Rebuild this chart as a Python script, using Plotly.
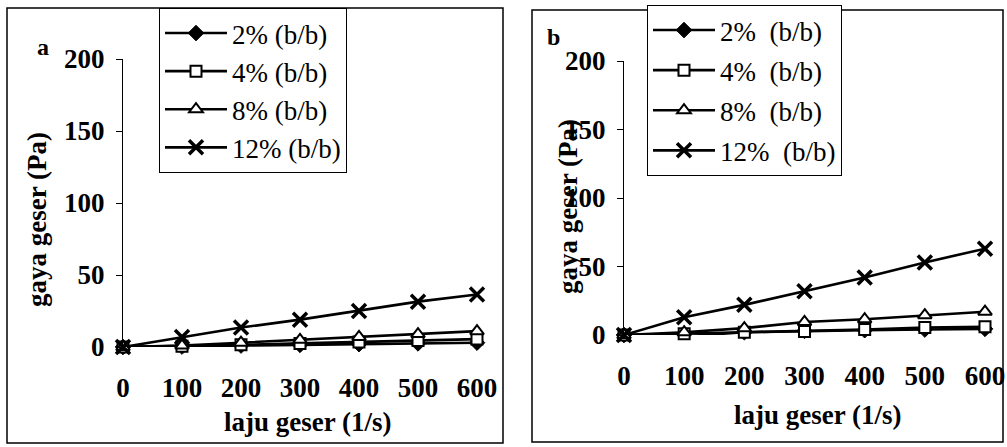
import plotly.graph_objects as go

W, H = 1007, 447

shear_rate = [0, 100, 200, 300, 400, 500, 600]
series_names = ["2% (b/b)", "4% (b/b)", "8% (b/b)", "12% (b/b)"]
series_names_b = ["2%  (b/b)", "4%  (b/b)", "8%  (b/b)", "12%  (b/b)"]

a_2 = [0, 0.3, 1, 1.5, 2, 2.5, 3]
a_4 = [0, 0.5, 1.5, 2.5, 3.5, 4.5, 5.5]
a_8 = [0, 1, 3, 5, 7, 9, 11]
a_12 = [0, 7, 13.5, 19, 25, 31.5, 36.5]

b_2 = [0, -1, 2, 3, 3.5, 4, 4.5]
b_4 = [0, 1, 2, 2.5, 4, 5.5, 6]
b_8 = [0, 2, 5, 9.5, 11.5, 14.5, 17]
b_12 = [0, 13, 22, 32, 42, 53, 63]

y_ticks = [0, 50, 100, 150, 200]
x_ticks = [0, 100, 200, 300, 400, 500, 600]

FONT = "Liberation Serif"

markers = [
    dict(symbol="diamond", size=12, color="black", line=dict(color="black", width=1)),
    dict(symbol="square", size=11, color="white", line=dict(color="black", width=2)),
    dict(symbol="triangle-up", size=12, color="white", line=dict(color="black", width=2)),
    dict(symbol="x-thin-open", size=14, color="black", line=dict(color="black", width=3.5)),
]

fig = go.Figure()

for i, (name, ys) in enumerate(zip(series_names, [a_2, a_4, a_8, a_12])):
    fig.add_trace(go.Scatter(
        x=shear_rate, y=ys, name=name, mode="lines+markers",
        line=dict(color="black", width=2.6), marker=markers[i],
        xaxis="x", yaxis="y", legend="legend", cliponaxis=False,
        legendgroup="a%d" % i,
    ))

for i, (name, ys) in enumerate(zip(series_names_b, [b_2, b_4, b_8, b_12])):
    fig.add_trace(go.Scatter(
        x=shear_rate, y=ys, name=name, mode="lines+markers",
        line=dict(color="black", width=2.6), marker=markers[i],
        xaxis="x2", yaxis="y2", legend="legend2", cliponaxis=False,
        legendgroup="b%d" % i,
    ))

def px_x(p):
    return p / W

def px_y(p):
    return 1 - p / H

tickfont = dict(family=FONT, size=27, color="black", weight="bold")

xaxis_common = dict(
    range=[0, 600], tickvals=x_ticks, showline=False, showgrid=False,
    zeroline=False, ticks="", tickfont=tickfont, ticklabelstandoff=22,
    automargin=False, fixedrange=True,
)
yaxis_common = dict(
    range=[0, 200], tickvals=y_ticks, showline=True, linecolor="black",
    linewidth=1, showgrid=False, zeroline=False, ticks="outside",
    ticklen=6, tickcolor="black", tickwidth=1, tickfont=tickfont,
    ticklabelstandoff=6, automargin=False, fixedrange=True,
)

legend_common = dict(
    bordercolor="black", borderwidth=1, bgcolor="white", itemwidth=62,
    xanchor="left", yanchor="top", itemclick=False, itemdoubleclick=False,
)

fig.update_layout(
    width=W, height=H, margin=dict(l=0, r=0, t=0, b=0),
    paper_bgcolor="white", plot_bgcolor="white", showlegend=True,
    font=dict(family=FONT, color="black"),
    xaxis=dict(domain=[px_x(123), px_x(477)], anchor="y", **xaxis_common),
    yaxis=dict(domain=[px_y(347), px_y(59)], anchor="x", **yaxis_common),
    xaxis2=dict(domain=[px_x(624), px_x(985)], anchor="y2", **xaxis_common),
    yaxis2=dict(domain=[px_y(335), px_y(61)], anchor="x2", **yaxis_common),
    legend=dict(x=px_x(159), y=px_y(8), tracegroupgap=0,
                font=dict(family=FONT, size=27, color="black"), **legend_common),
    legend2=dict(x=px_x(647), y=px_y(5), tracegroupgap=2,
                 font=dict(family=FONT, size=27, color="black"), **legend_common),
    shapes=[
        dict(type="rect", xref="paper", yref="paper",
             x0=px_x(7), x1=px_x(503), y0=px_y(443), y1=px_y(8),
             line=dict(color="black", width=1.5), layer="below"),
        dict(type="rect", xref="paper", yref="paper",
             x0=px_x(532), x1=px_x(1003), y0=px_y(442), y1=px_y(10),
             line=dict(color="black", width=1.5), layer="below"),
    ],
)

title_font = dict(family=FONT, size=27, color="black", weight="bold")
annotations = [
    dict(text="a", x=px_x(43), y=px_y(47), font=dict(family=FONT, size=24, color="black", weight="bold")),
    dict(text="b", x=px_x(553), y=px_y(37), font=dict(family=FONT, size=24, color="black", weight="bold")),
    dict(text="gaya geser (Pa)", x=px_x(37), y=px_y(220), textangle=-90, font=title_font),
    dict(text="gaya geser (Pa)", x=px_x(568), y=px_y(207), textangle=-90, font=title_font),
    dict(text="laju geser (1/s)", x=px_x(307), y=px_y(422), font=title_font),
    dict(text="laju geser (1/s)", x=px_x(817), y=px_y(415), font=title_font),
]
for a in annotations:
    a.update(xref="paper", yref="paper", showarrow=False, xanchor="center", yanchor="middle")
fig.update_layout(annotations=annotations)

fig.write_html("out.html")
